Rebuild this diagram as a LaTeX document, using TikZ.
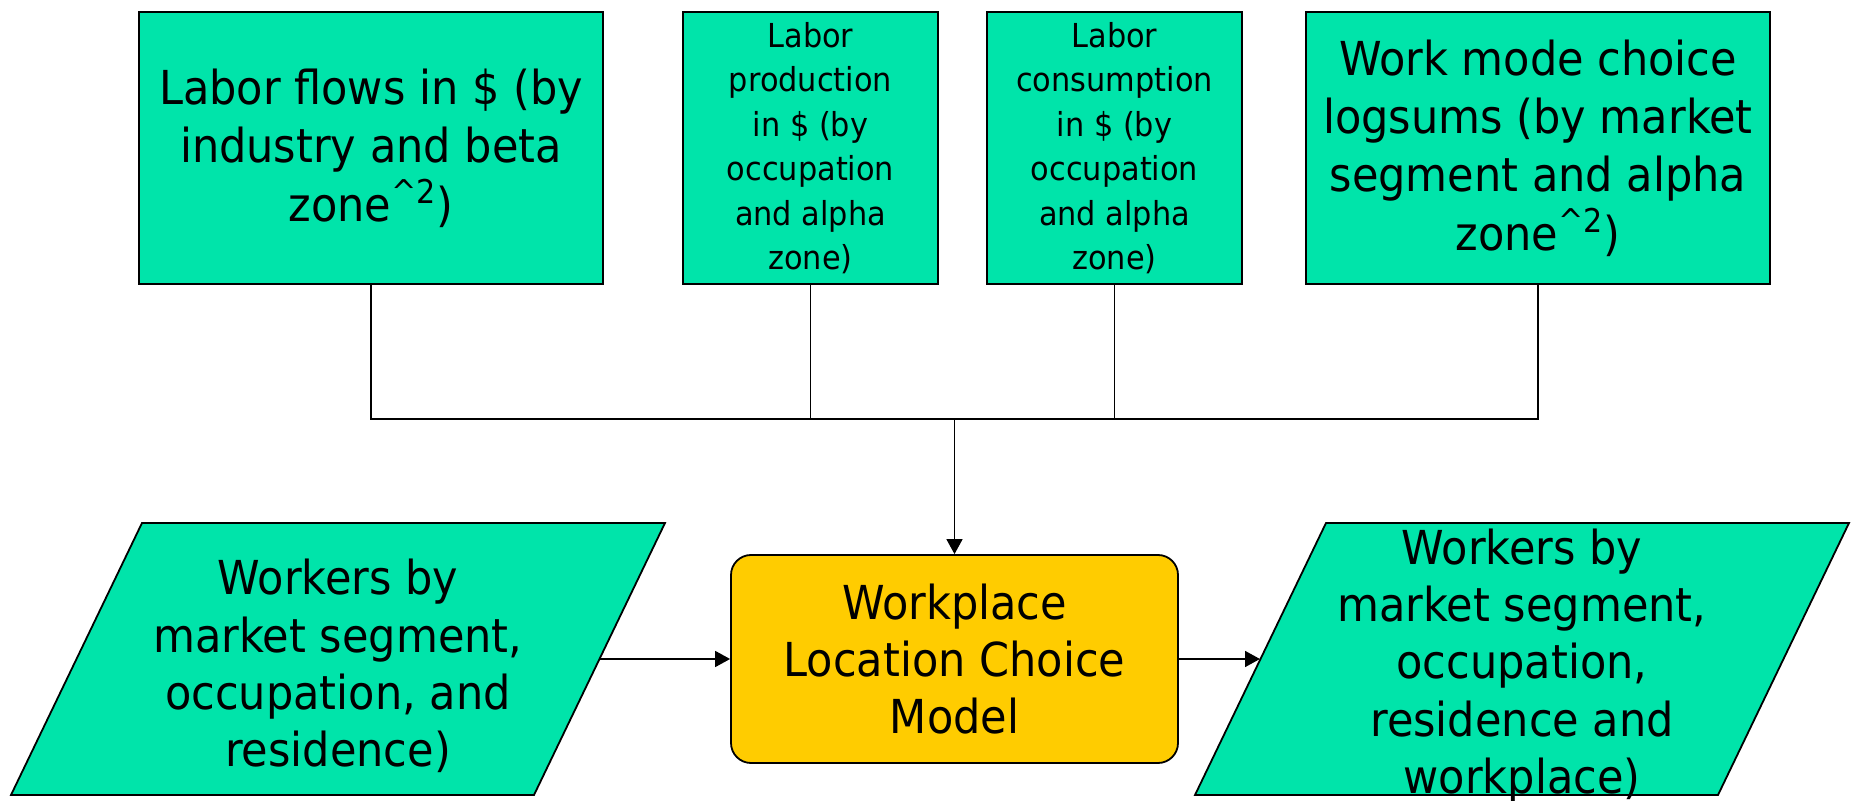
\documentclass[tikz,border=0pt]{standalone}
\usepackage{fontspec}
\setmainfont{DejaVu Sans}[FakeStretch=0.92]
\usetikzlibrary{arrows.meta,calc}
\definecolor{inputgreen}{RGB}{0,228,170}
\definecolor{modelyellow}{RGB}{255,204,0}
\newcommand{\sqzone}{zone\textsuperscript{\textasciicircum2})}

\begin{document}
\begin{tikzpicture}[x=0.5pt,y=-0.5pt,
  databox/.style={draw,line width=0.9pt,fill=inputgreen,inner sep=0pt,align=center,minimum height=136pt},
  bigtext/.style={font=\fontsize{23.4}{29.2}\selectfont},
  smalltext/.style={font=\fontsize{16.5}{22.25}\selectfont},
  paraline/.style={draw,line width=0.9pt,fill=inputgreen,line join=miter},
  paratext/.style={align=center,font=\fontsize{23.4}{28.6}\selectfont},
  modelbox/.style={draw,line width=0.9pt,fill=modelyellow,rounded corners=10pt,inner sep=0pt,
    align=center,minimum width=223.5pt,minimum height=104pt,font=\fontsize{23.4}{28.3}\selectfont},
  link/.style={line width=0.8pt},
  arrow/.style={link,-{Triangle[length=7.5pt,width=8pt]}}
]
\useasboundingbox (0,0) rectangle (1860,801);

% inputs along the top
\node[databox,bigtext,minimum width=232pt] (flows) at (371,148)
  {Labor flows in \$ (by\\ industry and beta\\ \sqzone};
\node[databox,smalltext,minimum width=127.5pt] (prod) at (810.5,148)
  {Labor\\ production\\ in \$ (by\\ occupation\\ and alpha\\ zone)};
\node[databox,smalltext,minimum width=127.5pt] (cons) at (1114.5,148)
  {Labor\\ consumption\\ in \$ (by\\ occupation\\ and alpha\\ zone)};
\node[databox,bigtext,minimum width=232pt] (logsums) at (1538,148)
  {Work mode choice\\ logsums (by market\\ segment and alpha\\ \sqzone};

% the model
\node[modelbox] (model) at (954.5,659) {Workplace\\ Location Choice\\ Model};

% workers in and out (parallelograms)
\coordinate (win) at (338,659);
\coordinate (wout) at (1522,659);
\foreach \p in {win,wout}
  \path[paraline] (\p) ++(-196,-136) -- ++(523,0) -- ++(-131,272) -- ++(-523,0) -- cycle;
\coordinate (win-east) at ($(win)+(262,0)$);
\coordinate (wout-west) at ($(wout)+(-262,0)$);
\node[paratext] (wintext) at (338,666) {Workers by\\ market segment,\\ occupation, and\\ residence)};
\node[paratext] (wouttext) at (1522,666) {Workers by\\ market segment,\\ occupation,\\ residence and\\ workplace)};

% collector line
\coordinate (bus) at (954.5,419);
\draw[link] (flows.south) |- (bus) -| (logsums.south);
\draw[link] (prod.south) -- (prod.south |- bus);
\draw[link] (cons.south) -- (cons.south |- bus);
\draw[arrow] (bus) -- (model.north);

\draw[arrow] (win-east) -- (model.west);
\draw[arrow] (model.east) -- (wout-west);
\end{tikzpicture}
\end{document}
